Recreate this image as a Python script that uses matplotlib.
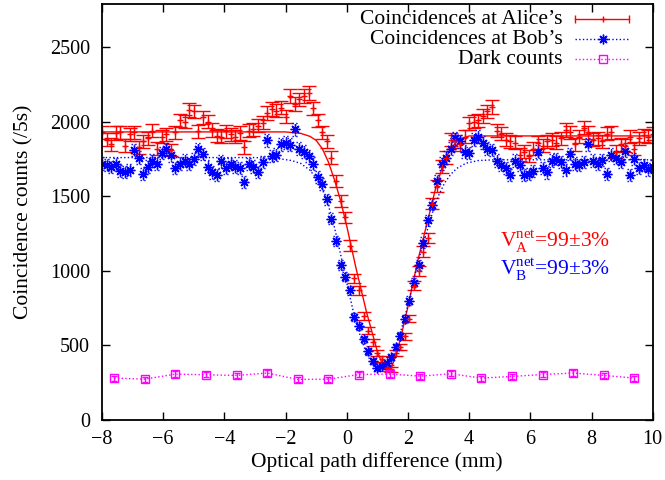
import numpy as np
import matplotlib
matplotlib.use('Agg')
import matplotlib.pyplot as plt

plt.rcParams['font.family'] = ['Liberation Serif', 'DejaVu Serif']
plt.rcParams['mathtext.fontset'] = 'custom'
plt.rcParams['mathtext.rm'] = 'Liberation Serif'
plt.rcParams['font.size'] = 15.5

# scan positions (mm), 0.15 mm step
pos = np.round(np.arange(-8.0, 10.001, 0.15), 2)

alice = [1930, 1880, 1850, 1925, 1930, 1840, 1915, 1930, 1830, 1870,
         1890, 1940, 1820, 1900, 1915, 1810, 1930, 2010, 2000, 2080,
         2070, 1935, 2030, 2000, 1945, 1905, 1900, 1935, 1915, 1900,
         1925, 1830, 1940, 1950, 1975, 1995, 2060, 2085, 2075, 2095,
         2035, 2170, 2120, 2150, 2170, 2195, 2090, 2010, 1930, 1870,
         1760, 1600, 1470, 1360, 1170, 950, 870, 700, 600, 520,
         450, 410, 350, 340, 450, 490, 560, 680, 900, 1000,
         1130, 1220, 1450, 1570, 1700, 1760, 1880, 1870, 1850, 1900,
         1990, 2000, 2010, 2040, 2070, 2100, 1940, 1920, 1880, 1870,
         1860, 1780, 1800, 1770, 1820, 1860, 1840, 1870, 1880, 1860,
         1890, 1945, 1930, 1850, 1900, 1960, 1930, 1880, 1890, 1870,
         1920, 1930, 1800, 1850, 1840, 1900, 1820, 1890, 1910, 1900,
         1920]

bob = [1720, 1710, 1695, 1715, 1670, 1665, 1675, 1810, 1760, 1650,
       1700, 1740, 1720, 1790, 1815, 1775, 1690, 1720, 1740, 1720,
       1750, 1815, 1785, 1700, 1660, 1640, 1735, 1690, 1715, 1700,
       1690, 1595, 1715, 1700, 1665, 1730, 1875, 1770, 1780, 1850,
       1860, 1845, 1950, 1820, 1800, 1770, 1720, 1630, 1585, 1480,
       1350, 1200, 1040, 960, 870, 690, 630, 540, 460, 395,
       350, 360, 380, 420, 490, 565, 675, 800, 920, 1040,
       1190, 1340, 1445, 1600, 1720, 1760, 1820, 1890, 1870, 1800,
       1790, 1880, 1900, 1860, 1820, 1810, 1740, 1710, 1690, 1640,
       1740, 1710, 1640, 1650, 1670, 1800, 1690, 1660, 1740, 1750,
       1730, 1675, 1785, 1720, 1710, 1730, 1850, 1740, 1720, 1745,
       1650, 1780, 1760, 1730, 1805, 1640, 1750, 1690, 1710, 1680,
       1700]

dark_x = [-7.6, -6.6, -5.6, -4.6, -3.6, -2.6, -1.6, -0.6, 0.4,
          1.4, 2.4, 3.4, 4.4, 5.4, 6.4, 7.4, 8.4, 9.4]
dark = [281, 274, 308, 303, 299, 315, 272, 274, 305,
        308, 294, 310, 281, 292, 305, 315, 299, 281]

# fitted curves
fit_a_x = [-8.0, -2.0, -1.5, -1.2, -1.0, -0.8, -0.6, -0.4, -0.2, 0.0, 0.3,
           0.65, 1.0, 1.2, 1.32, 1.45, 1.6, 1.75, 2.0, 2.3, 2.6, 2.9, 3.1,
           3.3, 3.6, 4.0, 10.0]
fit_a = [1932, 1932, 1922, 1902, 1875, 1820, 1730, 1610, 1470, 1300, 1020,
         720, 460, 355, 330, 345, 430, 540, 760, 1050, 1300, 1550, 1680,
         1780, 1875, 1905, 1905]
fit_b_x = [-8.0, -3.0, -2.2, -1.8, -1.5, -1.2, -1.0, -0.8, -0.6, -0.4, -0.2,
           0.0, 0.2, 0.4, 0.6, 0.8, 1.0, 1.1, 1.2, 1.4, 1.6, 1.8, 2.0, 2.2,
           2.4, 2.6, 2.8, 3.0, 3.2, 3.4, 3.6, 3.9, 4.3, 4.8, 10.0]
fit_b = [1760, 1760, 1752, 1740, 1720, 1675, 1620, 1550, 1440, 1290, 1110,
         920, 740, 590, 470, 385, 345, 342, 350, 400, 490, 620, 770, 950,
         1110, 1250, 1390, 1505, 1590, 1648, 1688, 1722, 1740, 1745, 1745]

red = '#ff0000'
blue = '#0000ff'
mag = '#ff00ff'

fig = plt.figure(figsize=(6.65, 4.8), dpi=100)
ax = fig.add_axes([0.1534, 0.125, 0.8281, 0.8667])

# Alice
ax.errorbar(pos, alice, yerr=np.sqrt(alice), fmt='+', color=red, ms=5,
            mew=1, elinewidth=1, capsize=5, capthick=1)
ax.plot(fit_a_x, fit_a, color=red, lw=1)

# Bob, dotted error bars
bob = np.array(bob)
eb = np.sqrt(bob)
ax.vlines(pos, bob - eb, bob + eb, colors=blue, linestyles=':', lw=1)
ax.hlines(bob - eb, pos - 0.1, pos + 0.1, colors=blue, linestyles=':', lw=1)
ax.hlines(bob + eb, pos - 0.1, pos + 0.1, colors=blue, linestyles=':', lw=1)
ax.plot(pos, bob, ls='none', marker=(8, 2, 0), ms=7, mew=1, color=blue)
ax.plot(fit_b_x, fit_b, color=blue, lw=1, ls=':')

# dark counts
ax.errorbar(dark_x, dark, yerr=np.sqrt(dark), color=mag, ls=':', lw=1,
            marker='s', mfc='none', ms=6, mew=1, capsize=2)

ax.set_xlim(-8, 10)
ax.set_ylim(0, 2790)
ax.set_xticks(range(-8, 11, 2))
ax.set_xticklabels(['\u22128', '\u22126', '\u22124', '\u22122', '0', '2', '4', '6', '8', '10'])
ax.set_yticks(range(0, 2501, 500))
ax.tick_params(direction='in', top=True, right=True, length=6, width=1,
               labelsize=14.5)
ax.tick_params(axis='x', pad=7)
ax.tick_params(axis='y', pad=8.5)
for s in ax.spines.values():
    s.set_linewidth(1.3)

ax.set_xlabel('Optical path difference (mm)')
ax.xaxis.set_label_coords(0.4994, -0.078)
ax.set_ylabel('Coincidence counts (/5s)')
ax.yaxis.set_label_coords(-0.125, 0.5)

# legend drawn by hand: text right-aligned, sample to the right
rows = [0.963, 0.915, 0.867]
tx, x0, xc, x1 = 0.8366, 0.859, 0.909, 0.9575
labels = ["Coincidences at Alice\u2019s", "Coincidences at Bob\u2019s", "Dark counts"]
for y, lab in zip(rows, labels):
    ax.text(tx, y, lab, transform=ax.transAxes, ha='right', va='center')
ax.plot([x0, x1], [rows[0]] * 2, transform=ax.transAxes, color=red, lw=1)
ax.plot([x0, x1], [rows[0]] * 2, transform=ax.transAxes, ls='none',
        marker='|', ms=6, mew=1, color=red)
ax.plot([xc], [rows[0]], transform=ax.transAxes, marker='+', ms=5, mew=1, color=red)
ax.plot([x0, x1], [rows[1]] * 2, transform=ax.transAxes, color=blue, lw=1, ls=':')
ax.plot([xc], [rows[1]], transform=ax.transAxes, marker=(8, 2, 0), ms=7, mew=1, color=blue)
ax.plot([x0, x1], [rows[2]] * 2, transform=ax.transAxes, color=mag, lw=1, ls=':')
ax.plot([xc], [rows[2]], transform=ax.transAxes, marker='s', mfc='none', ms=6,
        mew=1, color=mag)

ax.text(5.01, 1160, r'$\mathrm{V}_\mathrm{A}^\mathrm{net}$' + '=99±3%', color=red,
        va='baseline', fontsize=15.5)
ax.text(5.01, 975, r'$\mathrm{V}_\mathrm{B}^\mathrm{net}$' + '=99±3%', color=blue,
        va='baseline', fontsize=15.5)

fig.savefig('out.png', dpi=100)
